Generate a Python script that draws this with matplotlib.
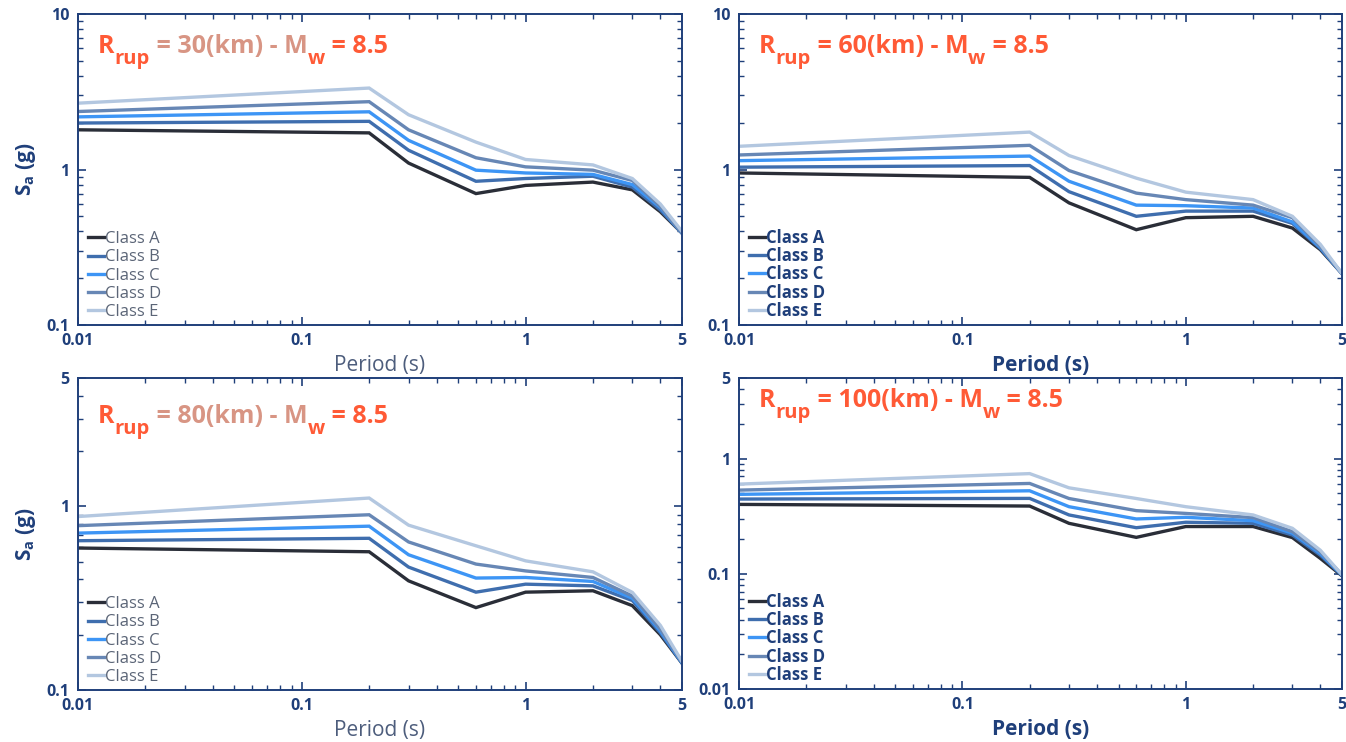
import matplotlib
matplotlib.use("Agg")
import matplotlib.pyplot as plt
from matplotlib.ticker import LogLocator, FixedLocator, FixedFormatter, NullFormatter

plt.rcParams['font.family'] = ['Open Sans', 'DejaVu Sans']
plt.rcParams['mathtext.fontset'] = 'custom'
plt.rcParams['mathtext.rm'] = 'Open Sans:bold'
plt.rcParams['mathtext.default'] = 'rm'

period = [0.01, 0.2, 0.3, 0.6, 1.0, 2.0, 3.0, 4.0, 5.0]
classes = ['Class A', 'Class B', 'Class C', 'Class D', 'Class E']
colors = ['#2a2e38', '#3f6eae', '#3d95f5', '#6787b5', '#b3c7e0']

# Sa (g) per class
sa_30 = [
    [1.80, 1.72, 1.10, 0.70, 0.79, 0.83, 0.74, 0.535, 0.39],
    [1.99, 2.04, 1.33, 0.84, 0.875, 0.905, 0.77, 0.55, 0.39],
    [2.18, 2.35, 1.54, 0.99, 0.95, 0.93, 0.80, 0.57, 0.39],
    [2.36, 2.73, 1.80, 1.19, 1.04, 0.99, 0.85, 0.58, 0.39],
    [2.67, 3.34, 2.25, 1.50, 1.16, 1.07, 0.875, 0.60, 0.40],
]
sa_60 = [
    [0.95, 0.89, 0.61, 0.41, 0.49, 0.50, 0.42, 0.305, 0.214],
    [1.035, 1.06, 0.72, 0.50, 0.54, 0.54, 0.45, 0.31, 0.214],
    [1.14, 1.22, 0.84, 0.59, 0.585, 0.565, 0.46, 0.315, 0.214],
    [1.24, 1.43, 0.985, 0.705, 0.64, 0.59, 0.49, 0.32, 0.214],
    [1.41, 1.74, 1.23, 0.88, 0.715, 0.64, 0.50, 0.33, 0.214],
]
sa_80 = [
    [0.593, 0.566, 0.393, 0.281, 0.341, 0.347, 0.288, 0.20, 0.14],
    [0.65, 0.67, 0.467, 0.341, 0.377, 0.369, 0.307, 0.205, 0.14],
    [0.715, 0.78, 0.545, 0.407, 0.41, 0.39, 0.316, 0.21, 0.141],
    [0.785, 0.90, 0.64, 0.485, 0.445, 0.41, 0.325, 0.215, 0.142],
    [0.88, 1.11, 0.79, 0.61, 0.505, 0.44, 0.34, 0.225, 0.143],
]
sa_100 = [
    [0.40, 0.387, 0.274, 0.207, 0.257, 0.257, 0.206, 0.136, 0.096],
    [0.445, 0.451, 0.324, 0.251, 0.28, 0.274, 0.217, 0.145, 0.097],
    [0.489, 0.525, 0.382, 0.299, 0.309, 0.289, 0.225, 0.15, 0.097],
    [0.532, 0.608, 0.45, 0.353, 0.334, 0.307, 0.232, 0.155, 0.098],
    [0.60, 0.74, 0.557, 0.45, 0.382, 0.324, 0.248, 0.16, 0.098],
]

distances = [30, 60, 80, 100]
data = [sa_30, sa_60, sa_80, sa_100]
ylims = [(0.1, 10), (0.1, 10), (0.1, 5), (0.01, 5)]
yticks = [[0.1, 1, 10], [0.1, 1, 10], [0.1, 1, 5], [0.01, 0.1, 1, 5]]
ytick_labels = [['0.1', '1', '10'], ['0.1', '1', '10'], ['0.1', '1', '5'], ['0.01', '0.1', '1', '5']]
xticks = [0.01, 0.1, 1, 5]
xtick_labels = ['0.01', '0.1', '1', '5']

navy = '#1f3f7a'
bright = '#ff5a36'
faded = '#d89584'

W, H = 1346, 742
boxes = [(78, 14, 682, 325), (739, 14, 1342, 325),
         (78, 378, 682, 690), (739, 378, 1342, 689)]
title_y = [0.875, 0.875, 0.856, 0.907]

fig = plt.figure(figsize=(13.46, 7.42), dpi=100)

for i in range(4):
    x0, y0, x1, y1 = boxes[i]
    ax = fig.add_axes([x0 / W, 1 - y1 / H, (x1 - x0) / W, (y1 - y0) / H])
    left = i % 2 == 0
    for k in range(5):
        ax.plot(period, data[i][k], color=colors[k], lw=2.4, label=classes[k],
                solid_joinstyle='miter')
    ax.set_xscale('log')
    ax.set_yscale('log')
    ax.set_xlim(0.01, 5)
    ax.set_ylim(*ylims[i])

    ax.xaxis.set_major_locator(FixedLocator(xticks))
    ax.xaxis.set_major_formatter(FixedFormatter(xtick_labels))
    ax.xaxis.set_minor_locator(LogLocator(base=10, subs=range(2, 10)))
    ax.xaxis.set_minor_formatter(NullFormatter())
    ax.yaxis.set_major_locator(FixedLocator(yticks[i]))
    ax.yaxis.set_major_formatter(FixedFormatter(ytick_labels[i]))
    ax.yaxis.set_minor_locator(LogLocator(base=10, subs=range(2, 10)))
    ax.yaxis.set_minor_formatter(NullFormatter())

    ax.tick_params(which='both', direction='in', top=True, right=True,
                   colors=navy, labelcolor=navy)
    ax.tick_params(which='major', length=6, width=1.2, labelsize=11.5, pad=6)
    ax.tick_params(which='minor', length=3.5, width=1.0)
    for lbl in ax.get_xticklabels() + ax.get_yticklabels():
        lbl.set_fontweight('bold')
    for sp in ax.spines.values():
        sp.set_color(navy)
        sp.set_linewidth(1.4)

    if left:
        ax.set_xlabel('Period (s)', fontsize=15, color='#4d5d7c', labelpad=4)
        ax.set_ylabel('S$_a$ (g)', fontsize=15, color=navy, fontweight='bold', labelpad=6)
        leg_color = '#5b6577'
        leg_weight = 'normal'
        spacing = 0.13
    else:
        ax.set_xlabel('Period (s)', fontsize=15, color=navy, fontweight='bold', labelpad=4)
        leg_color = navy
        leg_weight = 'bold'
        spacing = 0.02

    leg = ax.legend(loc='lower left', frameon=False, handlelength=1.0, handletextpad=0.05,
                    labelspacing=spacing, borderaxespad=0.0, fontsize=12,
                    bbox_to_anchor=(0.005, -0.005))
    for t in leg.get_texts():
        t.set_color(leg_color)
        t.set_fontweight(leg_weight)

    # title built from pieces so the subscripts sit low like the original
    ty = title_y[i]
    mid = faded if left else bright
    sub_dy = 0.035
    pieces = [('R', 18, bright, 0.0),
              ('rup', 14.5, bright, -sub_dy),
              (' = %d(km) - M' % distances[i], 18, mid, 0.0),
              ('w', 14.5, bright, -sub_dy),
              (' = 8.5', 18, bright, 0.0)]
    prev = None
    for txt, fs, col, dy in pieces:
        if prev is None:
            prev = ax.text(0.033, ty, txt, transform=ax.transAxes, fontsize=fs,
                           color=col, fontweight='bold', va='baseline')
        else:
            prev = ax.annotate(txt, xy=(1, ty + dy), xycoords=(prev, 'axes fraction'),
                               fontsize=fs, color=col, fontweight='bold', va='baseline')

fig.savefig('out.png', dpi=100)
